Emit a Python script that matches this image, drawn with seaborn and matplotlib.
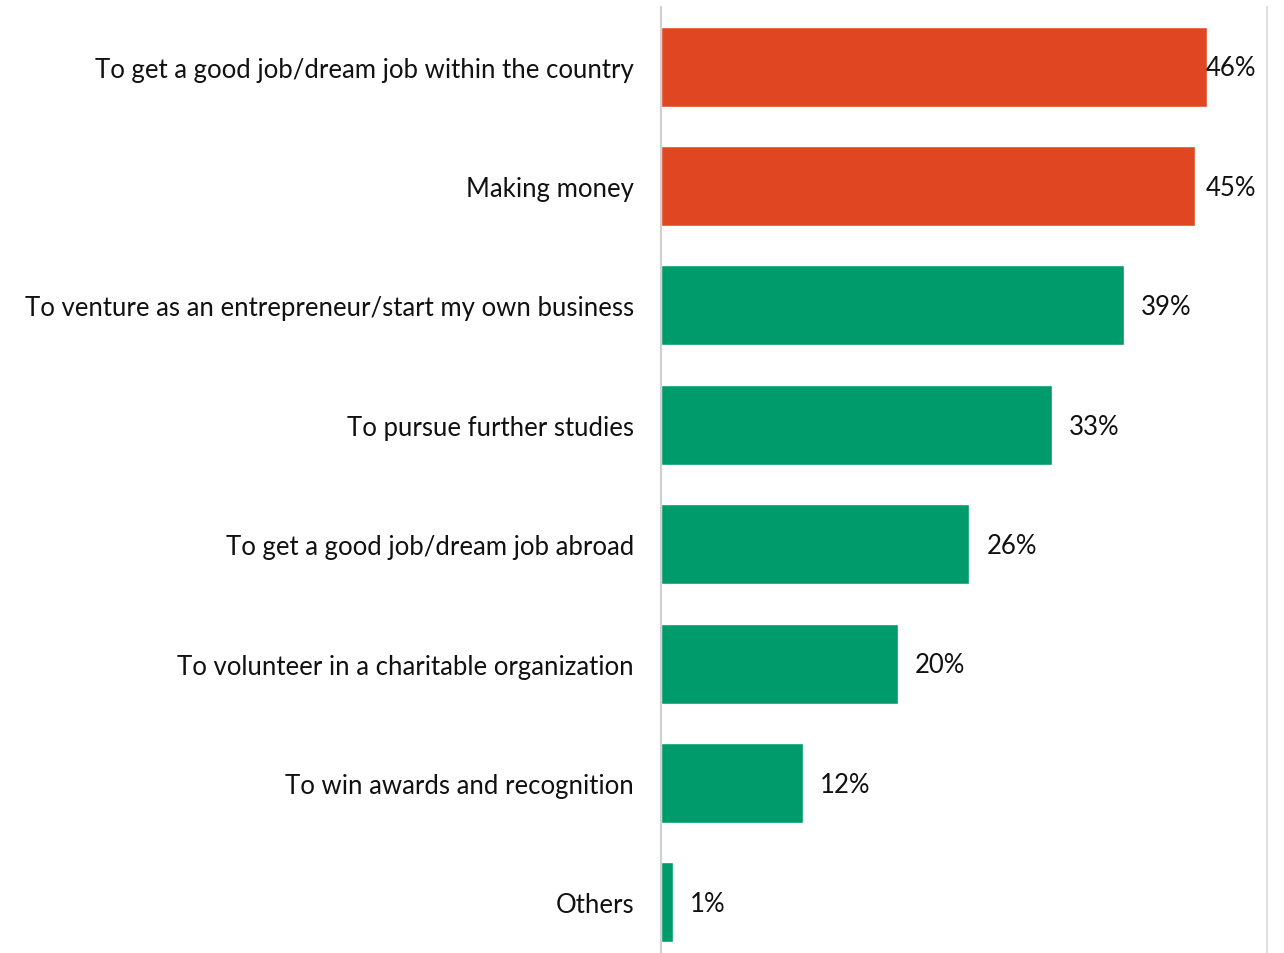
import matplotlib
matplotlib.use("Agg")
import matplotlib.pyplot as plt
import seaborn as sns
import pandas as pd

categories = [
    "To get a good job/dream job within the country",
    "Making money",
    "To venture as an entrepreneur/start my own business",
    "To pursue further studies",
    "To get a good job/dream job abroad",
    "To volunteer in a charitable organization",
    "To win awards and recognition",
    "Others",
]
values = [46, 45, 39, 33, 26, 20, 12, 1]
highlight = [True, True, False, False, False, False, False, False]

RED = "#E04622"
GREEN = "#009B6A"

df = pd.DataFrame({"reason": categories, "pct": values,
                   "group": ["top" if h else "other" for h in highlight]})

sns.set_theme(style="white")
plt.rcParams["font.family"] = ["Lato", "DejaVu Sans"]

fig = plt.figure(figsize=(12.84, 9.54), dpi=100)
W, H = 1284, 954
ax = fig.add_axes([661 / W, (954 - 963) / H, (1267 - 661) / W, (963 - 8) / H])

sns.barplot(data=df, y="reason", x="pct", hue="group", orient="h",
            palette={"top": RED, "other": GREEN}, width=0.67,
            dodge=False, legend=False, ax=ax, saturation=1)

px_per_unit = (1267 - 661) / 51.1
ax.set_xlim(0, 51.1)
ax.set_ylim(7.5, -0.5)

FS = 18.5

# value labels just past each bar, pulled inside the frame when they would overflow
limit = (1256 - 661) / px_per_unit
for i, v in enumerate(values):
    end = v + 17 / px_per_unit
    if end + 50 / px_per_unit > limit:
        ax.text(limit, i + 0.01, f"{v}%", ha="right", va="center", fontsize=FS, color="#111111")
    else:
        ax.text(end, i + 0.01, f"{v}%", ha="left", va="center", fontsize=FS, color="#111111")

ax.set_xlabel("")
ax.set_ylabel("")
ax.set_xticks([])
ax.tick_params(axis="y", length=0, pad=19.5, labelsize=FS, labelcolor="#111111")

for side in ["top", "bottom"]:
    ax.spines[side].set_visible(False)
ax.spines["left"].set_color("#D0D0D0")
ax.spines["left"].set_linewidth(1.5)
ax.spines["right"].set_color("#E0E0E0")
ax.spines["right"].set_linewidth(1.5)

fig.savefig("out.png", dpi=100)
